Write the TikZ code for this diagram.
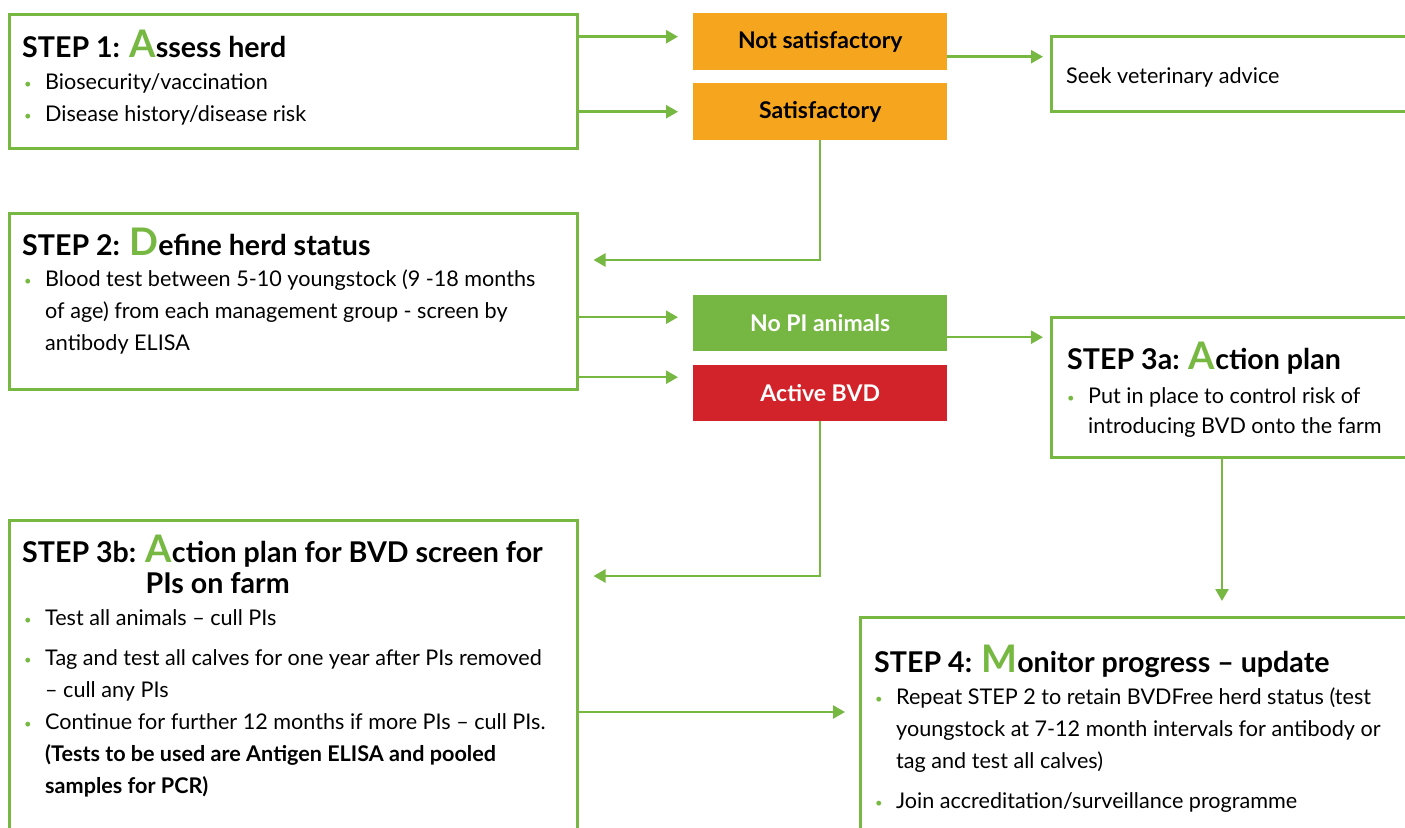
\documentclass[tikz,border=0pt]{standalone}
\usepackage{fontspec}
\setmainfont{Lato}
\usetikzlibrary{arrows.meta}
\definecolor{stepgreen}{RGB}{118,184,66}
\definecolor{pigreen}{RGB}{118,183,67}
\definecolor{okorange}{RGB}{246,166,30}
\definecolor{bvdred}{RGB}{210,35,42}
\newcommand{\titlefont}{\fontsize{28.6}{31}\selectfont\bfseries}
\newcommand{\bodyfont}{\fontsize{21.6}{32}\selectfont}
\newcommand{\choicefont}{\fontsize{23}{26}\selectfont\bfseries}
\newcommand{\capl}[1]{{\fontsize{38}{38}\selectfont\textcolor{stepgreen}{#1}}}
\newcommand{\bul}{\makebox[21pt][l]{\textcolor{stepgreen}{\raisebox{1pt}{\fontsize{13}{13}\selectfont\textbullet}}}}
\newcommand{\ind}{\hspace*{21pt}}

\begin{document}
\begin{tikzpicture}[x=1pt,y=-1pt,>={Triangle[length=12pt,width=13pt]},
  stepbox/.style={draw=stepgreen,line width=2.5pt,anchor=north west,inner sep=0},
  choice/.style={anchor=north west,minimum width=254pt,minimum height=57pt,inner sep=0,font=\choicefont},
  flow/.style={->,stepgreen,line width=2.5pt,shorten >=15pt},
  steptitle/.style={anchor=base west,inner sep=0,align=left,font=\titlefont},
  stepbody/.style={anchor=base west,inner sep=0,align=left,font=\bodyfont}]
\useasboundingbox (0,0) rectangle (1405,827);
\clip (0,0) rectangle (1405,827);
\node[stepbox,minimum width=568pt,minimum height=134pt] (s1) at (8,13) {};
\node[choice,fill=okorange] (nsat) at (693,13) {Not satisfactory};
\node[choice,fill=okorange] (sat) at (693,83) {Satisfactory};
\node[stepbox,minimum width=400pt,minimum height=75pt] (seek) at (1050,35) {};
\node[stepbox,minimum width=568pt,minimum height=176pt] (s2) at (8,212) {};
\node[choice,fill=pigreen,text=white,minimum height=56pt] (nopi) at (693,295) {No PI animals};
\node[choice,fill=bvdred,text=white,minimum height=56pt] (bvd) at (693,365) {Active BVD};
\node[stepbox,minimum width=400pt,minimum height=140pt] (s3a) at (1050,316) {};
\node[stepbox,minimum width=568pt,minimum height=340pt] (s3b) at (8,519) {};
\node[stepbox,minimum width=600pt,minimum height=260pt] (s4) at (859,616) {};
% box texts (base = last line)
\node[steptitle] (t1) at (22,57) {STEP 1: \capl{A}ssess herd};
\node[stepbody] (b1) at (24,121) {\bul Biosecurity/vaccination\\\bul Disease history/disease risk};
\node[stepbody] (seektxt) at (1066,83) {Seek veterinary advice};
\node[steptitle] (t2) at (22,255) {STEP 2: \capl{D}efine herd status};
\node[stepbody] (b2) at (24,350) {\bul Blood test between 5-10 youngstock (9 -18 months\\\ind of age) from each management group - screen by\\\ind antibody ELISA};
\node[steptitle] (t3a) at (1067,369) {STEP 3a: \capl{A}ction plan};
\node[stepbody] (b3a) at (1067,433) {\bul Put in place to control risk of\\[-2pt]\ind introducing BVD onto the farm};
\node[steptitle] (t3b) at (22,593) {STEP 3b: \capl{A}ction plan for BVD screen for\\\phantom{STEP 3b: }PIs on farm};
\node[stepbody] (b3b) at (24,793) {\bul Test all animals – cull PIs\\[8pt]\bul Tag and test all calves for one year after PIs removed\\\ind – cull any PIs\\\bul Continue for further 12 months if more PIs – cull PIs.\\\ind\textbf{(Tests to be used are Antigen ELISA and pooled}\\\ind\textbf{samples for PCR)}};
\node[steptitle] (t4) at (874,672) {STEP 4: \capl{M}onitor progress – update};
\node[stepbody] (b4) at (875,808) {\bul Repeat STEP 2 to retain BVDFree herd status (test\\\ind youngstock at 7-12 month intervals for antibody or\\\ind tag and test all calves)\\[8pt]\bul Join accreditation/surveillance programme};
% connectors
\coordinate (a1) at ([yshift=5pt]nsat.west);
\draw[flow] (a1 -| s1.east) -- (a1);
\draw[flow] (sat.west -| s1.east) -- (sat.west);
\coordinate (a2) at ([yshift=-15pt]nsat.east);
\draw[flow,shorten >=7pt] (a2) -- (a2 -| seek.west);
\coordinate (a3) at ([yshift=-48pt]s2.north east);
\draw[flow] (sat.south) |- (a3);
\coordinate (a4) at ([yshift=6pt]nopi.west);
\draw[flow] (a4 -| s2.east) -- (a4);
\coordinate (a5) at ([yshift=16pt]bvd.west);
\draw[flow] (a5 -| s2.east) -- (a5);
\coordinate (a6) at ([yshift=-14pt]nopi.east);
\draw[flow,shorten >=7pt] (a6) -- (a6 -| s3a.west);
\coordinate (a7) at ([yshift=-57pt]s3b.north east);
\draw[flow] (bvd.south) |- (a7);
\coordinate (a8) at ([xshift=172pt]s3a.south west);
\draw[flow] (a8) -- (a8 |- s4.north);
\coordinate (a9) at ([yshift=-96pt]s4.north west);
\draw[flow,shorten >=14pt] (a9 -| s3b.east) -- (a9);
\end{tikzpicture}
\end{document}
